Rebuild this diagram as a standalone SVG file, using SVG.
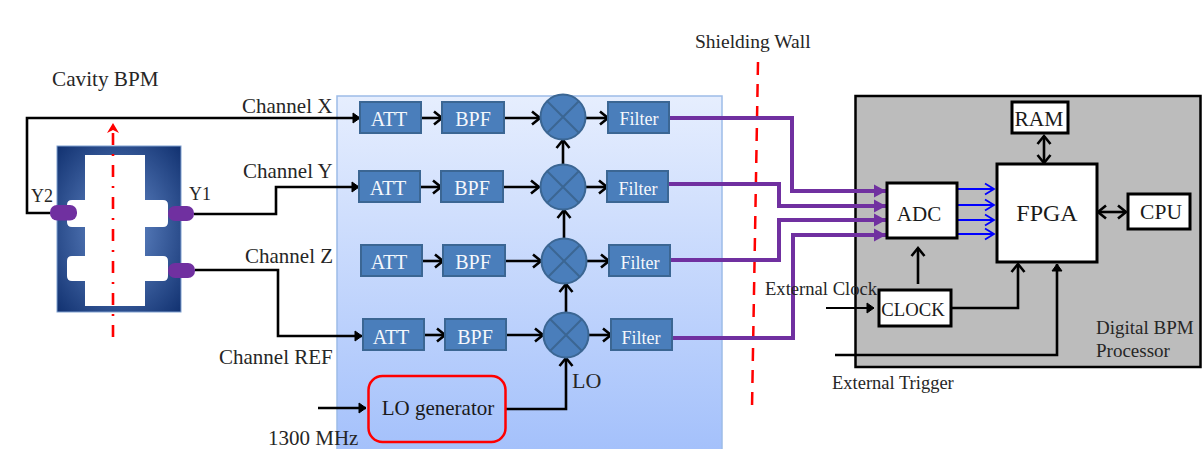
<svg xmlns="http://www.w3.org/2000/svg" width="1202" height="449" viewBox="0 0 1202 449">
<style>
text{font-family:"Liberation Serif","Times New Roman",serif;fill:#262626;font-size:21px}
.w{font-size:20px;fill:#f4f7fc;text-anchor:middle}
.wire{fill:none;stroke:#000;stroke-width:2.600}
.thin{fill:none;stroke:#000;stroke-width:2}
.pur{fill:none;stroke:#7030a0;stroke-width:4}
.blue{fill:none;stroke:#0000ff;stroke-width:2}
.blk{fill:#4a7ebb;stroke:#3b6693;stroke-width:2}
.mix{fill:#4a7ebb;stroke:#3b6693;stroke-width:2}
.wb{fill:#fff;stroke:#000;stroke-width:3}
.port{fill:#7030a0}
.dt{text-anchor:middle;fill:#1a1a1a}
</style>
<defs>
<linearGradient id="panel" x1="0" y1="0" x2="0" y2="1"><stop offset="0" stop-color="#e6eefe"/><stop offset="1" stop-color="#a3c0fb"/></linearGradient>
<radialGradient id="cav" cx="0.5" cy="0.5" r="0.72"><stop offset="0" stop-color="#6a90cf"/><stop offset="1" stop-color="#0f2f6e"/></radialGradient>
<marker id="a" markerUnits="userSpaceOnUse" markerWidth="14" markerHeight="16" refX="11" refY="8" orient="auto-start-reverse"><path d="M3 1.500L11 8L3 14.500" fill="none" stroke="#000" stroke-width="2.600"/></marker>
<marker id="t" markerUnits="userSpaceOnUse" markerWidth="14" markerHeight="16" refX="11" refY="8" orient="auto"><path d="M4 3L11 8L4 13z" fill="#000" stroke="#000" stroke-width="1"/></marker>
<marker id="b" markerUnits="userSpaceOnUse" markerWidth="14" markerHeight="16" refX="12" refY="8" orient="auto"><path d="M3 2.500L12 8L3 13.500" fill="none" stroke="#00f" stroke-width="1.800"/></marker>
<marker id="p" markerUnits="userSpaceOnUse" markerWidth="16" markerHeight="16" refX="14" refY="8" orient="auto"><path d="M2 1.500L14 8L2 14.500z" fill="#7030a0"/></marker>
<marker id="r" markerUnits="userSpaceOnUse" markerWidth="16" markerHeight="14" refX="8" refY="2" orient="0"><path d="M2 12L8 2L14 12L8 9z" fill="#f00"/></marker>
</defs>

<g id="rf-panel"><rect x="337" y="96" width="385" height="360" fill="url(#panel)" stroke="#9dbce8" stroke-width="1.500"/></g>
<g id="digital-panel"><rect x="855.500" y="96" width="345" height="271" fill="#bcbcbc" stroke="#000" stroke-width="2.500"/>
<text x="1096" y="334" style="font-size:19px">Digital BPM</text><text x="1096" y="357" style="font-size:19px">Processor</text></g>

<g id="cavity-bpm">
<rect x="57" y="146" width="124" height="166" fill="url(#cav)" stroke="#7f9fcf" stroke-width="1"/>
<path d="M85 155H145V200H163Q168 200 168 205V222Q168 227 163 227H145V256H163Q168 256 168 261V276Q168 281 163 281H145V306H85V281H72Q67 281 67 276V261Q67 256 72 256H85V227H72Q67 227 67 222V205Q67 200 72 200H85Z" fill="#fff"/>
<rect class="port" x="50" y="205" width="27" height="15.500" rx="7"/>
<rect class="port" x="168" y="206" width="26" height="15" rx="7"/>
<rect class="port" x="168" y="263" width="27" height="15" rx="7"/>
</g>

<g id="connectors">
<path d="M113 337V126" fill="none" stroke="#f00" stroke-width="2.600" stroke-dasharray="12 9 2 9"/>
<path d="M113 123L119 133L113 130L107 133Z" fill="#f00"/>
<path class="wire" d="M50 213H27V118H360" marker-end="url(#t)"/>
<path class="wire" d="M194 214H276V187H359" marker-end="url(#t)"/>
<path class="wire" d="M195 270H278V336H362" marker-end="url(#t)"/>
<path d="M758 62L752 408" fill="none" stroke="#f00" stroke-width="2.500" stroke-dasharray="13 9"/>
<g>
<path class="wire" d="M421 118H442" marker-end="url(#a)"/><path class="wire" d="M504 118H540" marker-end="url(#a)"/><path class="wire" d="M586 118H608" marker-end="url(#a)"/>
<path class="wire" d="M420 187H441" marker-end="url(#a)"/><path class="wire" d="M503 187H539" marker-end="url(#a)"/><path class="wire" d="M586 187H607" marker-end="url(#a)"/>
<path class="wire" d="M422 261H443" marker-end="url(#a)"/><path class="wire" d="M505 261H541" marker-end="url(#a)"/><path class="wire" d="M587 261H609" marker-end="url(#a)"/>
<path class="wire" d="M424 335H445" marker-end="url(#a)"/><path class="wire" d="M506 335H543" marker-end="url(#a)"/><path class="wire" d="M589 335H611" marker-end="url(#a)"/>
<path class="wire" d="M563 165V140" marker-end="url(#a)"/><path class="wire" d="M564 238V210" marker-end="url(#a)"/><path class="wire" d="M566 312V284" marker-end="url(#a)"/>
<path class="wire" d="M505 409H566V358" marker-end="url(#a)"/>
<path class="wire" d="M318 408H366" marker-end="url(#t)"/>
</g>
<path class="pur" d="M669 118H792V191H886" marker-end="url(#p)"/>
<path class="pur" d="M668 184H779V206H886" marker-end="url(#p)"/>
<path class="pur" d="M670 260H779V220H886" marker-end="url(#p)"/>
<path class="pur" d="M672 338H793V235H886" marker-end="url(#p)"/>
<path class="blue" d="M957 189H994" marker-end="url(#b)"/><path class="blue" d="M957 205H994" marker-end="url(#b)"/><path class="blue" d="M957 220H994" marker-end="url(#b)"/><path class="blue" d="M957 234H994" marker-end="url(#b)"/>
<path class="wire" d="M918 284V248" marker-end="url(#a)"/>
<path class="wire" d="M951 308H1018V264" marker-end="url(#a)"/>
<path class="wire" d="M835 355H1057V264" marker-end="url(#t)"/>
<path class="thin" d="M826 308H874" marker-end="url(#t)"/>
<path class="wire" d="M1044 163V136" marker-start="url(#a)" marker-end="url(#a)"/>
<path class="wire" d="M1098 212H1126" marker-start="url(#a)" marker-end="url(#a)"/>
</g>

<g id="att-x"><rect class="blk" x="360" y="102" width="61" height="31"/><text class="w" x="389" y="126">ATT</text></g>
<g id="bpf-x"><rect class="blk" x="442" y="102" width="62" height="31"/><text class="w" x="473" y="126">BPF</text></g>
<g id="mix-x"><circle class="mix" cx="563" cy="117" r="22.500"/><path d="M547 101L579 133M579 101L547 133" stroke="#3b6693" stroke-width="2"/></g>
<g id="filter-x"><rect class="blk" x="608" y="102" width="61" height="31"/><text class="w" x="639" y="125" style="font-size:18px">Filter</text></g>

<g id="att-y"><rect class="blk" x="359" y="171" width="61" height="31"/><text class="w" x="388" y="195">ATT</text></g>
<g id="bpf-y"><rect class="blk" x="441" y="171" width="62" height="31"/><text class="w" x="472" y="195">BPF</text></g>
<g id="mix-y"><circle class="mix" cx="563" cy="187" r="22.500"/><path d="M547 171L579 203M579 171L547 203" stroke="#3b6693" stroke-width="2"/></g>
<g id="filter-y"><rect class="blk" x="607" y="171" width="61" height="31"/><text class="w" x="638" y="195" style="font-size:18px">Filter</text></g>

<g id="att-z"><rect class="blk" x="361" y="245" width="61" height="31"/><text class="w" x="389" y="269">ATT</text></g>
<g id="bpf-z"><rect class="blk" x="443" y="245" width="62" height="31"/><text class="w" x="473" y="269">BPF</text></g>
<g id="mix-z"><circle class="mix" cx="564" cy="261" r="22.500"/><path d="M548 245L580 277M580 245L548 277" stroke="#3b6693" stroke-width="2"/></g>
<g id="filter-z"><rect class="blk" x="609" y="245" width="61" height="31"/><text class="w" x="640" y="269" style="font-size:18px">Filter</text></g>

<g id="att-ref"><rect class="blk" x="363" y="319" width="61" height="31"/><text class="w" x="391" y="344">ATT</text></g>
<g id="bpf-ref"><rect class="blk" x="445" y="319" width="61" height="31"/><text class="w" x="475" y="344">BPF</text></g>
<g id="mix-ref"><circle class="mix" cx="566" cy="335" r="22.500"/><path d="M550 319L582 351M582 319L550 351" stroke="#3b6693" stroke-width="2"/></g>
<g id="filter-ref"><rect class="blk" x="611" y="319" width="61" height="31"/><text class="w" x="641" y="344" style="font-size:18px">Filter</text></g>

<g id="lo-generator"><rect x="368.500" y="376" width="137" height="66" rx="14" fill="none" stroke="#f00" stroke-width="2.500"/><text class="dt" x="438" y="415">LO generator</text></g>

<g id="adc"><rect class="wb" x="887" y="183" width="70" height="55"/><text class="dt" x="919" y="221" style="font-size:21px">ADC</text></g>
<g id="fpga"><rect class="wb" x="997" y="164" width="100" height="98"/><text class="dt" x="1047" y="221" style="font-size:24px">FPGA</text></g>
<g id="ram"><rect class="wb" x="1012" y="102" width="56" height="31"/><text class="dt" x="1039" y="126" style="font-size:21.500px">RAM</text></g>
<g id="cpu"><rect class="wb" x="1128" y="194" width="62" height="35"/><text class="dt" x="1161" y="219" style="font-size:21.500px">CPU</text></g>
<g id="clock"><rect class="wb" x="879" y="290" width="72" height="36"/><text class="dt" x="913" y="316" style="font-size:18.700px">CLOCK</text></g>

<g id="labels">
<text x="52" y="86" style="font-size:21.200px">Cavity BPM</text>
<text x="242" y="113">Channel X</text>
<text x="243" y="178">Channel Y</text>
<text x="245" y="263">Channel Z</text>
<text x="219" y="364">Channel REF</text>
<text x="31" y="202" style="font-size:18px">Y2</text>
<text x="189" y="200" style="font-size:18px">Y1</text>
<text x="572" y="388" style="font-size:22px">LO</text>
<text x="268" y="445">1300 MHz</text>
<text x="695" y="48" style="font-size:19.500px">Shielding Wall</text>
<text x="765" y="295" style="font-size:18.600px">External Clock</text>
<text x="832" y="389" style="font-size:18.500px">External Trigger</text>
</g>
</svg>
